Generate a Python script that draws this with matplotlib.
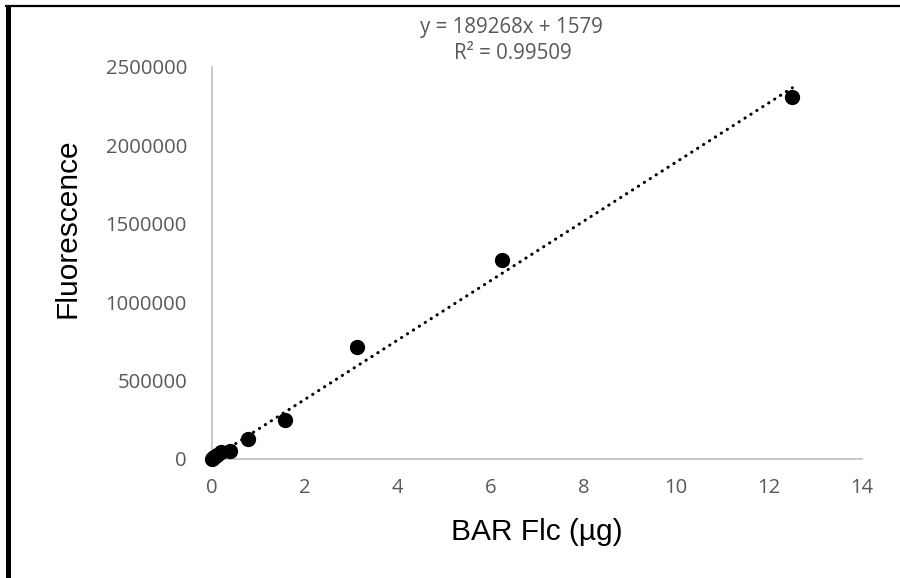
import matplotlib
matplotlib.use("Agg")
import matplotlib.pyplot as plt
from matplotlib.lines import Line2D
from matplotlib.ticker import FuncFormatter
import numpy as np

# Data
bar_flc = [12.5, 6.25, 3.125, 1.5625, 0.78125, 0.390625, 0.1953125,
           0.09765625, 0.048828125, 0.0244140625, 0.0]
fluorescence = [2310000, 1270000, 712000, 247000, 127000, 51000, 45000,
                25000, 12000, 6000, 0]
slope = 189268
intercept = 1579
r2_text = "0.99509"
x_ticks = [0, 2, 4, 6, 8, 10, 12, 14]
y_ticks = [0, 500000, 1000000, 1500000, 2000000, 2500000]

W, H = 900, 578
fig = plt.figure(figsize=(9, 5.78), dpi=100)
ax = fig.add_axes([212 / W, 1 - 459 / H, (862 - 212) / W, (459 - 67) / H])

gray_txt = "#595959"
tick_font = "Open Sans"

# trendline over data range
xs = np.array([min(bar_flc), max(bar_flc)])
ax.plot(xs, slope * xs + intercept, color="black", lw=2.2,
        linestyle=(0, (0.1, 2.2)), dash_capstyle="round", zorder=2)

ax.plot(bar_flc, fluorescence, linestyle="none", marker="o", markersize=10,
        color="black", clip_on=False, zorder=3)

ax.set_xlim(0, 14)
ax.set_ylim(0, 2500000)
ax.set_xticks(x_ticks)
ax.set_yticks(y_ticks)
ax.yaxis.set_major_formatter(FuncFormatter(lambda v, p: f"{int(v)}"))

for s in ["top", "right"]:
    ax.spines[s].set_visible(False)
for s in ["left", "bottom"]:
    ax.spines[s].set_color("#BFBFBF")
    ax.spines[s].set_linewidth(1.2)

ax.tick_params(axis="both", length=0, labelcolor=gray_txt, labelsize=14.6)
ax.tick_params(axis="x", pad=14)
ax.tick_params(axis="y", pad=18)
for lab in ax.get_xticklabels() + ax.get_yticklabels():
    lab.set_fontfamily(tick_font)

# axis titles
fig.text(537 / W, 1 - 540 / H, "BAR Flc (µg)", fontsize=21.5,
         family="Liberation Sans", color="black", ha="center", va="baseline")
fig.text(75 / W, 1 - 228 / H, "Fluorescence", fontsize=21.5,
         family="Liberation Sans", color="black", ha="center", va="baseline",
         rotation=90, rotation_mode="anchor")

# trendline equation
fig.text(511 / W, 1 - 33 / H, f"y = {slope}x + {intercept}",
         ha="center", va="baseline", fontsize=14.8, color=gray_txt, family=tick_font)
fig.text(513 / W, 1 - 59 / H, f"R² = {r2_text}",
         ha="center", va="baseline", fontsize=14.8, color=gray_txt, family=tick_font)

# outer frame (left and top edges)
fig.add_artist(Line2D([7.5 / W, 7.5 / W], [0, 1 - 5 / H], transform=fig.transFigure,
                      color="black", lw=3.6, solid_capstyle="butt"))
fig.add_artist(Line2D([5 / W, 1], [1 - 6 / H, 1 - 6 / H], transform=fig.transFigure,
                      color="black", lw=1.6, solid_capstyle="butt"))

fig.savefig("out.png", dpi=100)
